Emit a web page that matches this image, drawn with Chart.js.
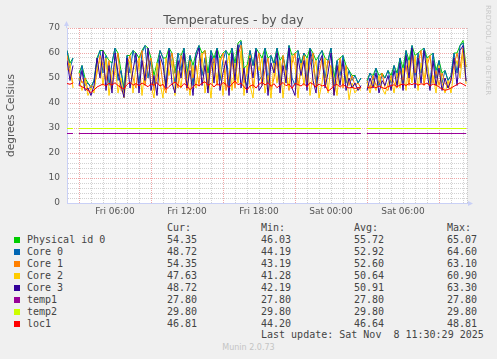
<!DOCTYPE html>
<html>
<head>
<meta charset="utf-8">
<title>Temperatures - by day</title>
<script src="https://cdn.jsdelivr.net/npm/chart.js@4.4.0/dist/chart.umd.min.js"></script>
<style>
  html, body { margin: 0; padding: 0; background: #f0f0f0; }
  #wrap { position: relative; width: 497px; height: 359px; overflow: hidden; }
  #chart { position: absolute; left: 0; top: 0; }
  .cell { position: absolute; font: 10px "DejaVu Sans Mono", monospace; line-height: 12px; color: #444; white-space: pre; }
  .sq { position: absolute; width: 6px; height: 6px; }
  #munin { position: absolute; left: 0; top: 343px; width: 497px; text-align: center; font: 8px "DejaVu Sans", sans-serif; color: #c4c4c4; }
  #rrd { position: absolute; left: 483px; top: 5px; writing-mode: vertical-rl; font: 7px "DejaVu Sans", sans-serif; line-height: 9px; color: #c8c8c8; }
</style>
</head>
<body>
<div id="wrap">
  <canvas id="chart" width="497" height="220"></canvas>
  <div id="legend"></div>
  <div id="munin">Munin 2.0.73</div>
  <div id="rrd">RRDTOOL / TOBI OETIKER</div>
</div>
<script>
// samples every 15 minutes, hours counted from Fri 00:00
const startHour = 2.25;
const stepHours = 0.25;
const xMin = 2.25;
const xMax = 35.58;

const tickHours = [6, 12, 18, 24, 30];
const tickLabels = ["Fri 06:00", "Fri 12:00", "Fri 18:00", "Sat 00:00", "Sat 06:00"];

const seriesNames = ["Physical id 0", "Core 0", "Core 1", "Core 2", "Core 3", "temp1", "temp2", "loc1"];
const seriesColors = ["#00cc00", "#0066b3", "#ff8000", "#ffcc00", "#330099", "#990099", "#ccff00", "#ff0000"];

const physical0 = [
  61, 56, 58, null, 52, 55, 50, 48, 46.5, 49,
  58, 61, 61, 59, 57, 56, 62, 60, 53, 46.03,
  59, 59, 61, 60, 58, 61, 63, 62, 58, 51,
  56, 61, 58, 58, 62, 60, 52, 60, 59, 62,
  52, 59, 55, 60, 63, 60, 61, 52, 61, 58,
  62, 58, 60, 61, 59, 62, 56, 64, 65.07, 54,
  55, 61, 55, 62, 60, 58, 62, 58, 59, 56,
  62, 57, 59, 53, 63, 59, 60, 61, 56, 60,
  58, 62, 60, 57, 59, 61, 58, 57, 62, 50,
  57, 58, 59, 55, 53, 51, 51, 48, 50, null,
  49, 52, 51, 54, 51, 52, 50, 53, 51, 55,
  52, 58, 54, 61, 57, 63, 59, 60, 61, 62,
  58, 59, 60, 53, 57, 52, 53, 49, 51, 60,
  60, 63, 65, 54.35
];
const core0 = [
  61, 54, 58, null, 49, 55, 47, 48, 46, 49,
  57, 61, 52, 59, 47, 56, 62, 49, 53, 44.2,
  59, 52, 61, 56, 48, 60, 63, 50, 57, 47,
  53, 61, 58, 47, 62, 55, 48, 60, 53, 62,
  50, 59, 47, 60, 63, 51, 58, 48, 61, 55,
  62, 49, 57, 61, 47, 62, 53, 61, 64.6, 50,
  47, 61, 55, 62, 49, 51, 62, 48, 59, 55,
  62, 48, 58, 53, 63, 50, 47, 61, 55, 60,
  49, 62, 56, 48, 59, 61, 50, 57, 62, 47,
  57, 51, 59, 48, 53, 49, 51, 48, 50, null,
  48, 52, 49, 54, 47, 51, 50, 53, 48, 55,
  50, 58, 48, 61, 53, 63, 51, 60, 52, 62,
  56, 48, 60, 50, 57, 48, 53, 49, 51, 60,
  52, 63, 64, 48.72
];
const core1 = [
  59, 52, 48, null, 52, 48, 50, 45, 47, 46,
  52, 59, 55, 49, 57, 46, 53, 60, 45, 44,
  55, 59, 50, 46, 57, 61, 47, 55, 58, 45,
  50, 57, 47, 44, 55, 60, 52, 46, 59, 54,
  45, 57, 50, 55, 47, 59, 61, 46, 54, 58,
  47, 56, 60, 45, 51, 58, 46, 59, 63.1, 48,
  52, 59, 46, 55, 60, 47, 53, 58, 45, 50,
  57, 46, 59, 51, 45, 56, 60, 47, 53, 59,
  48, 55, 60, 46, 51, 58, 47, 57, 54, 43.2,
  49, 58, 46, 55, 47, 51, 47, 48, 46, null,
  49, 46, 51, 47, 48, 52, 46, 45, 51, 48,
  46, 53, 49, 55, 47, 60, 52, 56, 61, 47,
  55, 59, 48, 53, 47, 52, 48, 46, 50, 55,
  60, 54, 62, 54.35
];
const core2 = [
  53, 56, 46, null, 50, 45, 49, 43, 46, 44,
  54, 57, 47, 58, 43, 52, 56, 44, 50, 42,
  52, 57, 44, 55, 58, 43, 54, 59, 47, 42,
  56, 48, 42, 58, 51, 57, 43, 53, 46, 58,
  52, 43, 55, 46, 57, 60, 44, 52, 42, 56,
  49, 58, 43, 54, 59, 45, 56, 48, 60.9, 43,
  55, 47, 42, 57, 53, 58, 44, 51, 42, 56,
  48, 57, 42, 53, 46, 59, 55, 42, 56, 47,
  58, 43, 52, 57, 42, 48, 58, 44, 55, 50,
  43, 56, 48, 53, 41.3, 48, 44, 46, 45, null,
  48, 44, 49, 45, 51, 46, 43.5, 48, 50, 44,
  52, 46, 54, 45, 57, 48, 59, 45, 56, 49,
  58, 46, 51, 44, 55, 48, 44, 49, 44, 53,
  57, 50, 60, 47.63
];
const core3 = [
  57, 49, 55, null, 47, 53, 45, 46, 43, 47,
  58, 50, 61, 45, 55, 44, 60, 52, 47, 42.2,
  58, 46, 53, 60, 44, 57, 49, 62, 45, 51,
  43, 59, 55, 46, 61, 48, 44, 57, 50, 60,
  46, 53, 43, 58, 62, 47, 55, 44, 59, 48,
  61, 45, 52, 57, 43, 60, 49, 63.3, 46, 54,
  44, 58, 50, 61, 45, 47, 59, 43, 56, 52,
  60, 44, 55, 48, 62, 46, 43, 58, 51, 57,
  45, 61, 49, 44, 56, 59, 46, 52, 60, 43,
  55, 47, 57, 45, 50, 46, 48, 45, 47, null,
  45, 50, 46, 52, 44, 49, 47, 51, 45, 53,
  47, 56, 45, 59, 50, 62, 46, 58, 48, 61,
  52, 45, 57, 47, 54, 45, 50, 46, 49, 58,
  47, 61, 63, 48.72
];
const temp1 = [
  27.8, 27.8, 27.8, null, 27.8, 27.8, 27.8, 27.8, 27.8, 27.8,
  27.8, 27.8, 27.8, 27.8, 27.8, 27.8, 27.8, 27.8, 27.8, 27.8,
  27.8, 27.8, 27.8, 27.8, 27.8, 27.8, 27.8, 27.8, 27.8, 27.8,
  27.8, 27.8, 27.8, 27.8, 27.8, 27.8, 27.8, 27.8, 27.8, 27.8,
  27.8, 27.8, 27.8, 27.8, 27.8, 27.8, 27.8, 27.8, 27.8, 27.8,
  27.8, 27.8, 27.8, 27.8, 27.8, 27.8, 27.8, 27.8, 27.8, 27.8,
  27.8, 27.8, 27.8, 27.8, 27.8, 27.8, 27.8, 27.8, 27.8, 27.8,
  27.8, 27.8, 27.8, 27.8, 27.8, 27.8, 27.8, 27.8, 27.8, 27.8,
  27.8, 27.8, 27.8, 27.8, 27.8, 27.8, 27.8, 27.8, 27.8, 27.8,
  27.8, 27.8, 27.8, 27.8, 27.8, 27.8, 27.8, 27.8, 27.8, null,
  27.8, 27.8, 27.8, 27.8, 27.8, 27.8, 27.8, 27.8, 27.8, 27.8,
  27.8, 27.8, 27.8, 27.8, 27.8, 27.8, 27.8, 27.8, 27.8, 27.8,
  27.8, 27.8, 27.8, 27.8, 27.8, 27.8, 27.8, 27.8, 27.8, 27.8,
  27.8, 27.8, 27.8, 27.8
];
const temp2 = [
  29.8, 29.8, 29.8, null, 29.8, 29.8, 29.8, 29.8, 29.8, 29.8,
  29.8, 29.8, 29.8, 29.8, 29.8, 29.8, 29.8, 29.8, 29.8, 29.8,
  29.8, 29.8, 29.8, 29.8, 29.8, 29.8, 29.8, 29.8, 29.8, 29.8,
  29.8, 29.8, 29.8, 29.8, 29.8, 29.8, 29.8, 29.8, 29.8, 29.8,
  29.8, 29.8, 29.8, 29.8, 29.8, 29.8, 29.8, 29.8, 29.8, 29.8,
  29.8, 29.8, 29.8, 29.8, 29.8, 29.8, 29.8, 29.8, 29.8, 29.8,
  29.8, 29.8, 29.8, 29.8, 29.8, 29.8, 29.8, 29.8, 29.8, 29.8,
  29.8, 29.8, 29.8, 29.8, 29.8, 29.8, 29.8, 29.8, 29.8, 29.8,
  29.8, 29.8, 29.8, 29.8, 29.8, 29.8, 29.8, 29.8, 29.8, 29.8,
  29.8, 29.8, 29.8, 29.8, 29.8, 29.8, 29.8, 29.8, 29.8, null,
  29.8, 29.8, 29.8, 29.8, 29.8, 29.8, 29.8, 29.8, 29.8, 29.8,
  29.8, 29.8, 29.8, 29.8, 29.8, 29.8, 29.8, 29.8, 29.8, 29.8,
  29.8, 29.8, 29.8, 29.8, 29.8, 29.8, 29.8, 29.8, 29.8, 29.8,
  29.8, 29.8, 29.8, 29.8
];
const loc1 = [
  47.8, 47.5, 48.0, null, 47.2, 46.5, 45.8, 45.0, 44.2, 45.2,
  46.4, 47.0, 47.6, 46.8, 47.9, 47.2, 48.1, 47.0, 46.2, 45.6,
  47.4, 48.3, 47.1, 47.8, 46.9, 48.0, 47.3, 46.5, 47.7, 47.1,
  48.2, 46.8, 47.5, 45.4, 46.6, 47.6, 48.4, 47.2, 46.3, 47.8,
  46.9, 45.3, 46.5, 47.6, 46.8, 47.9, 48.5, 47.1, 47.8, 46.4,
  47.7, 46.9, 48.2, 47.4, 46.2, 47.6, 48.8, 47.3, 47.9, 46.5,
  45.2, 46.8, 47.3, 46.0, 47.5, 48.3, 47.2, 48.1, 46.7, 47.7,
  46.1, 47.2, 48.2, 46.9, 47.6, 45.8, 47.9, 47.4, 46.8, 47.8,
  46.5, 48.2, 47.5, 46.4, 47.6, 46.8, 47.2, 44.8, 45.6, 47.0,
  47.5, 46.3, 47.4, 46.5, 46.0, 46.3, 45.8, 46.2, 46.0, null,
  46.4, 45.9, 46.6, 46.1, 46.8, 46.2, 45.7, 46.6, 46.9, 47.3,
  46.5, 47.2, 47.6, 47.0, 47.8, 47.3, 48.0, 47.1, 47.7, 47.4,
  48.0, 46.8, 47.6, 47.2, 46.4, 45.6, 45.1, 45.4, 46.0, 46.7,
  47.4, 48.1, 47.5, 46.81
];

const curValues = [54.35, 48.72, 54.35, 47.63, 48.72, 27.80, 29.80, 46.81];
const minValues = [46.03, 44.19, 43.19, 41.28, 42.19, 27.80, 29.80, 44.20];
const avgValues = [55.72, 52.92, 52.60, 50.64, 50.91, 27.80, 29.80, 46.64];
const maxValues = [65.07, 64.60, 63.10, 60.90, 63.30, 27.80, 29.80, 48.81];
const lastUpdate = "Last update: Sat Nov  8 11:30:29 2025";

const seriesData = [physical0, core0, core1, core2, core3, temp1, temp2, loc1];

const textColor = "#555555";
const axisColor = "#c9d0f6";
const majorGrid = "rgba(224, 80, 80, 0.5)";
const minorGrid = "rgba(143, 143, 143, 0.4)";

const datasets = seriesData.map((vals, k) => ({
  label: seriesNames[k],
  data: vals.map((v, i) => ({ x: startHour + i * stepHours, y: v })),
  borderColor: seriesColors[k],
  backgroundColor: seriesColors[k],
  borderWidth: 1,
  pointRadius: 0,
  tension: 0,
  spanGaps: false,
  order: seriesData.length - k
}));

const plotBackground = {
  id: "plotBackground",
  beforeDraw(chart) {
    const { ctx, chartArea: a } = chart;
    ctx.save();
    ctx.fillStyle = "#ffffff";
    ctx.fillRect(a.left, a.top, a.right - a.left, a.bottom - a.top);
    ctx.restore();
  }
};

const axisArrows = {
  id: "axisArrows",
  afterDraw(chart) {
    const { ctx, chartArea: a } = chart;
    const lx = Math.round(a.left) - 0.5;
    const by = Math.round(a.bottom) + 0.5;
    ctx.save();
    ctx.strokeStyle = axisColor;
    ctx.fillStyle = axisColor;
    ctx.lineWidth = 1;
    ctx.beginPath();
    ctx.moveTo(lx, a.top);
    ctx.lineTo(lx, a.top - 3);
    ctx.moveTo(a.right, by);
    ctx.lineTo(a.right + 3, by);
    ctx.stroke();
    ctx.beginPath();
    ctx.moveTo(lx, a.top - 7);
    ctx.lineTo(lx - 2.5, a.top - 2);
    ctx.lineTo(lx + 2.5, a.top - 2);
    ctx.closePath();
    ctx.fill();
    ctx.beginPath();
    ctx.moveTo(a.right + 6, by);
    ctx.lineTo(a.right + 1, by - 2.5);
    ctx.lineTo(a.right + 1, by + 2.5);
    ctx.closePath();
    ctx.fill();
    ctx.restore();
  }
};

new Chart(document.getElementById("chart"), {
  type: "line",
  data: { datasets },
  options: {
    responsive: false,
    animation: false,
    devicePixelRatio: 1,
    layout: { padding: { left: 0, right: 30, top: 0, bottom: 0 } },
    plugins: {
      legend: { display: false },
      tooltip: { enabled: false },
      title: {
        display: true,
        text: "Temperatures - by day",
        color: textColor,
        font: { family: "DejaVu Sans", size: 12.5, weight: "normal" },
        padding: { top: 13, bottom: 0 }
      }
    },
    scales: {
      x: {
        type: "linear",
        min: xMin,
        max: xMax,
        bounds: "data",
        afterFit(s) { s.height = 17; },
        ticks: {
          stepSize: 1,
          includeBounds: false,
          autoSkip: false,
          maxRotation: 0,
          padding: 3.5,
          color: textColor,
          font: { family: "DejaVu Sans", size: 9 },
          callback(v) {
            const k = tickHours.indexOf(Math.round(v));
            return k >= 0 ? tickLabels[k] : "";
          }
        },
        grid: {
          drawTicks: false,
          lineWidth: 1,
          color: c => (c.tick && (Math.round(c.tick.value) - 3) % 6 === 0) ? majorGrid : minorGrid
        },
        border: { display: true, color: axisColor, width: 1, dash: [1, 1] }
      },
      y: {
        min: 0,
        max: 70,
        afterFit(s) { s.width = 67; },
        ticks: {
          stepSize: 2,
          autoSkip: false,
          padding: 7,
          color: textColor,
          font: { family: "DejaVu Sans", size: 9 },
          callback: v => (Math.round(v) % 10 === 0 ? String(Math.round(v)) : "")
        },
        grid: {
          drawTicks: false,
          lineWidth: 1,
          color: c => (c.tick && Math.round(c.tick.value) % 10 === 0) ? majorGrid : minorGrid
        },
        border: { display: true, color: axisColor, width: 1, dash: [1, 1] },
        title: {
          display: true,
          text: "degrees Celsius",
          color: textColor,
          font: { family: "DejaVu Sans", size: 10.5 },
          padding: { top: 4.5, bottom: 0 }
        }
      }
    }
  },
  plugins: [plotBackground, axisArrows]
});

// legend table under the graph
const legend = document.getElementById("legend");
const colLeft = { name: 27, cur: 167, min: 261, avg: 354, max: 447 };
function addCell(text, left, top) {
  const d = document.createElement("div");
  d.className = "cell";
  d.style.left = left + "px";
  d.style.top = top + "px";
  d.textContent = text;
  legend.appendChild(d);
}
addCell("Cur:", colLeft.cur, 222);
addCell("Min:", colLeft.min, 222);
addCell("Avg:", colLeft.avg, 222);
addCell("Max:", colLeft.max, 222);
seriesNames.forEach((name, k) => {
  const top = 233.5 + k * 12;
  const sq = document.createElement("div");
  sq.className = "sq";
  sq.style.left = "14px";
  sq.style.top = (top + 3) + "px";
  sq.style.background = seriesColors[k];
  legend.appendChild(sq);
  addCell(name, colLeft.name, top);
  addCell(curValues[k].toFixed(2), colLeft.cur, top);
  addCell(minValues[k].toFixed(2), colLeft.min, top);
  addCell(avgValues[k].toFixed(2), colLeft.avg, top);
  addCell(maxValues[k].toFixed(2), colLeft.max, top);
});
addCell(lastUpdate, colLeft.min, 329);
</script>
</body>
</html>
